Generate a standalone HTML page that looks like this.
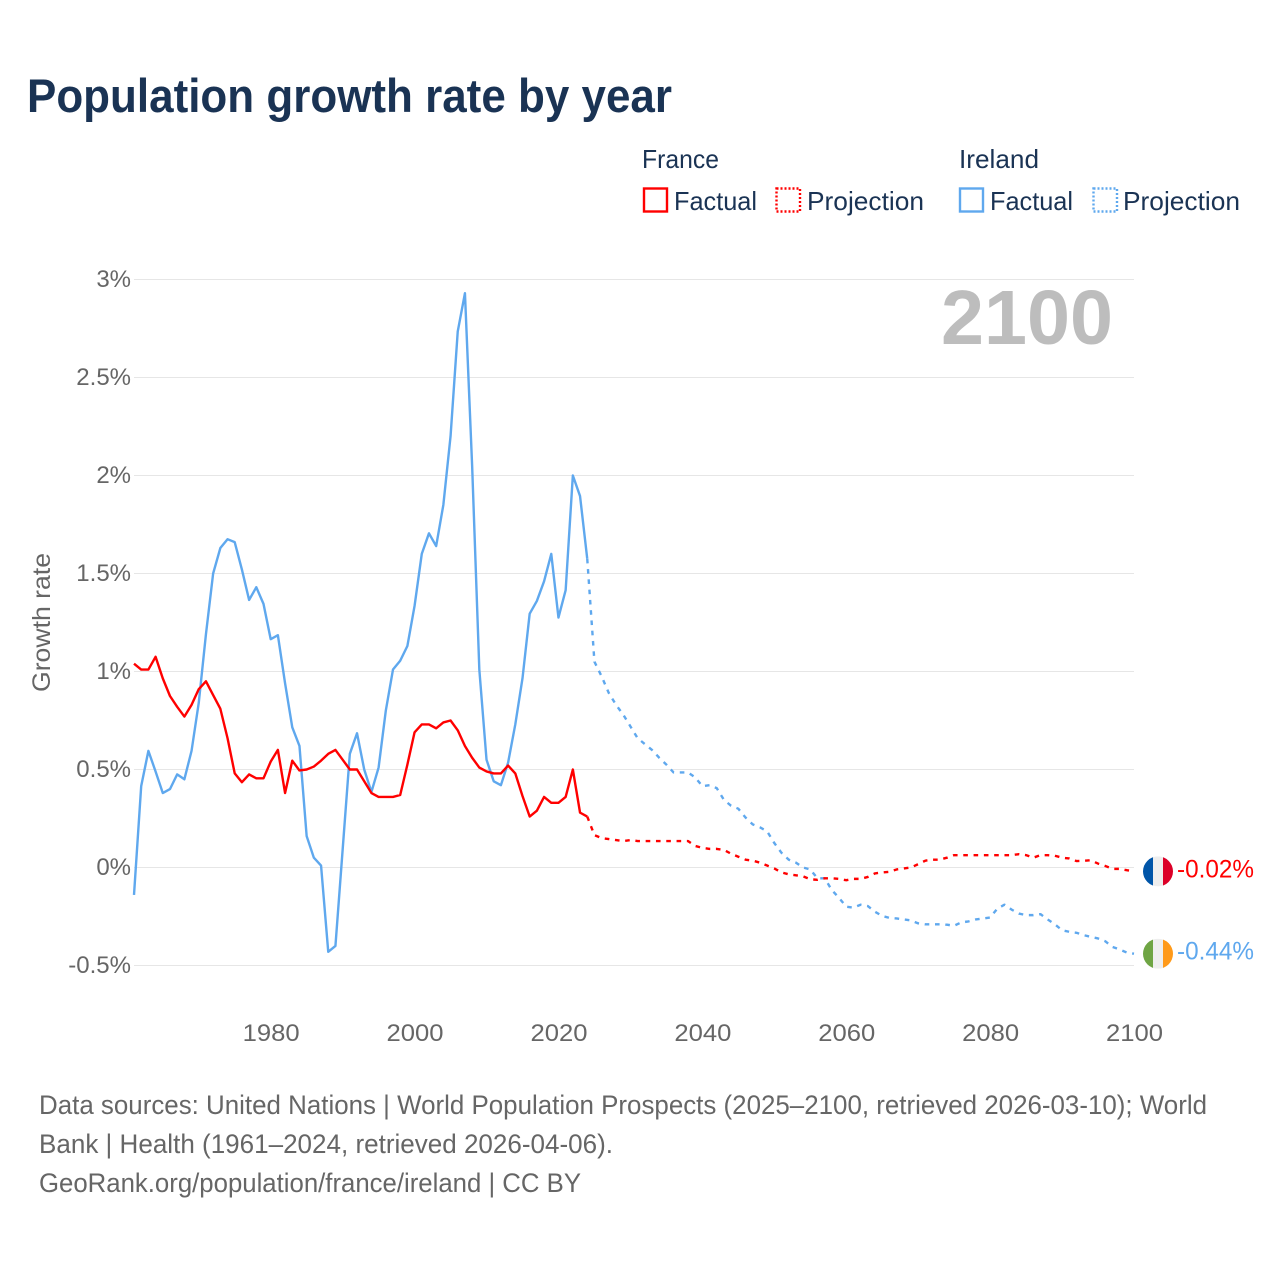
<!DOCTYPE html>
<html lang="en">
<head>
<meta charset="utf-8">
<title>Population growth rate by year</title>
<style>
html,body{margin:0;padding:0;background:#fff;}
svg{display:block;font-family:"Liberation Sans",sans-serif;}
</style>
</head>
<body>
<svg id="chart" xmlns="http://www.w3.org/2000/svg" width="1280" height="1280" viewBox="0 0 1280 1280">
  <rect x="0" y="0" width="1280" height="1280" fill="#ffffff"/>
  <text x="27" y="112" font-size="47" font-weight="700" fill="#1a3354" textLength="645" lengthAdjust="spacingAndGlyphs">Population growth rate by year</text>

  <g font-size="26" fill="#1a3354">
    <text x="642" y="168" textLength="77" lengthAdjust="spacingAndGlyphs">France</text>
    <rect x="644" y="188.5" width="23" height="23" fill="none" stroke="#ff0000" stroke-width="2.4"/>
    <text x="674" y="210" textLength="83" lengthAdjust="spacingAndGlyphs">Factual</text>
    <rect x="776.5" y="188.5" width="23.5" height="23" fill="none" stroke="#ff0000" stroke-width="2.4" stroke-dasharray="2,2"/>
    <text x="807" y="210" textLength="117" lengthAdjust="spacingAndGlyphs">Projection</text>
    <text x="959" y="168" textLength="80" lengthAdjust="spacingAndGlyphs">Ireland</text>
    <rect x="960" y="188.5" width="23" height="23" fill="none" stroke="#5fa8ee" stroke-width="2.4"/>
    <text x="990" y="210" textLength="83" lengthAdjust="spacingAndGlyphs">Factual</text>
    <rect x="1093.5" y="188.5" width="23.5" height="23" fill="none" stroke="#5fa8ee" stroke-width="2.4" stroke-dasharray="2,2"/>
    <text x="1123" y="210" textLength="117" lengthAdjust="spacingAndGlyphs">Projection</text>
  </g>

  <g id="grid"></g>
  <g id="yticks"></g>
  <g id="xticks"></g>

  <text transform="translate(50,622.5) rotate(-90)" text-anchor="middle" font-size="25" fill="#666666" textLength="139" lengthAdjust="spacingAndGlyphs">Growth rate</text>
  <text x="941" y="344" font-size="77" font-weight="700" fill="#bdbdbd" textLength="172" lengthAdjust="spacingAndGlyphs">2100</text>

  <g id="series"></g>

  <defs>
    <clipPath id="flag-clip-france"><circle id="clip-fr" cx="1158" cy="871" r="15"/></clipPath>
    <clipPath id="flag-clip-ireland"><circle id="clip-ie" cx="1158" cy="954" r="15"/></clipPath>
  </defs>
  <g id="flags"></g>

  <g font-size="27" fill="#666666">
    <text x="39" y="1114" textLength="1168" lengthAdjust="spacingAndGlyphs">Data sources: United Nations | World Population Prospects (2025–2100, retrieved 2026-03-10); World</text>
    <text x="39" y="1153" textLength="574" lengthAdjust="spacingAndGlyphs">Bank | Health (1961–2024, retrieved 2026-04-06).</text>
    <text x="39" y="1192" textLength="542" lengthAdjust="spacingAndGlyphs">GeoRank.org/population/france/ireland | CC BY</text>
  </g>
</svg>

<script>
const yTickValues = [3, 2.5, 2, 1.5, 1, 0.5, 0, -0.5];
const yTickLabels = ["3%", "2.5%", "2%", "1.5%", "1%", "0.5%", "0%", "-0.5%"];
const xTickYears = [1980, 2000, 2020, 2040, 2060, 2080, 2100];

const factualStartYear = 1961;
const projectionStartYear = 2024;

const franceFactual = [
  1.04, 1.01, 1.01, 1.075, 0.965, 0.875, 0.82, 0.77, 0.83, 0.91,
  0.95, 0.88, 0.81, 0.66, 0.48, 0.435, 0.475, 0.455, 0.455, 0.54,
  0.60, 0.38, 0.545, 0.495, 0.50, 0.515, 0.545, 0.58, 0.60, 0.55,
  0.50, 0.50, 0.44, 0.38, 0.36, 0.36, 0.36, 0.37, 0.525, 0.69,
  0.73, 0.73, 0.71, 0.74, 0.75, 0.70, 0.62, 0.56, 0.51, 0.49,
  0.48, 0.48, 0.52, 0.48, 0.365, 0.26, 0.29, 0.36, 0.33, 0.33,
  0.36, 0.50, 0.28, 0.26
];
const irelandFactual = [
  -0.14, 0.415, 0.595, 0.49, 0.38, 0.40, 0.475, 0.45, 0.595, 0.84,
  1.19, 1.50, 1.63, 1.675, 1.66, 1.52, 1.365, 1.43, 1.345, 1.165,
  1.185, 0.94, 0.715, 0.62, 0.16, 0.05, 0.01, -0.43, -0.40, 0.09,
  0.58, 0.685, 0.50, 0.385, 0.51, 0.80, 1.01, 1.055, 1.13, 1.335,
  1.60, 1.705, 1.64, 1.85, 2.20, 2.735, 2.93, 2.05, 1.01, 0.55,
  0.44, 0.42, 0.535, 0.73, 0.965, 1.295, 1.36, 1.46, 1.60, 1.275,
  1.415, 2.00, 1.895, 1.575
];
const franceProjection = [
  0.26, 0.165, 0.15, 0.145, 0.14, 0.135, 0.14, 0.135, 0.135, 0.135, 0.135,
  0.135, 0.135, 0.135, 0.135, 0.11, 0.10, 0.095, 0.095, 0.09, 0.07,
  0.055, 0.04, 0.035, 0.025, 0.01, -0.005, -0.025, -0.035, -0.04, -0.045,
  -0.06, -0.063, -0.055, -0.055, -0.058, -0.065, -0.058, -0.058, -0.048, -0.03,
  -0.025, -0.022, -0.01, -0.005, 0, 0.017, 0.035, 0.04, 0.04, 0.05,
  0.063, 0.063, 0.063, 0.063, 0.063, 0.063, 0.063, 0.063, 0.063, 0.068,
  0.063, 0.05, 0.063, 0.063, 0.06, 0.05, 0.046, 0.033, 0.034, 0.037,
  0.02, 0.008, -0.007, -0.007, -0.014, -0.02
];
const irelandProjection = [
  1.575, 1.05, 0.975, 0.89, 0.83, 0.78, 0.72, 0.66, 0.63, 0.60, 0.56,
  0.525, 0.485, 0.485, 0.485, 0.46, 0.415, 0.42, 0.405, 0.345, 0.315,
  0.30, 0.255, 0.22, 0.205, 0.185, 0.125, 0.075, 0.04, 0.025, 0,
  -0.01, -0.055, -0.055, -0.115, -0.155, -0.20, -0.205, -0.19, -0.197, -0.226,
  -0.247, -0.257, -0.26, -0.265, -0.27, -0.285, -0.29, -0.29, -0.29, -0.292,
  -0.297, -0.28, -0.275, -0.265, -0.26, -0.255, -0.21, -0.19, -0.215, -0.235,
  -0.243, -0.243, -0.238, -0.265, -0.29, -0.32, -0.328, -0.333, -0.345, -0.354,
  -0.362, -0.376, -0.405, -0.418, -0.434, -0.44
];
const endLabels = ["-0.02%", "-0.44%"];

const SVG_NS = "http://www.w3.org/2000/svg";
const RED = "#ff0000";
const BLUE = "#5fa8ee";

function xScale(year) { return 134 + (year - 1961) * (1000 / 139); }
function yScale(value) { return 867.5 - value * 196; }

function make(tag, parent, attrs, text) {
  const el = document.createElementNS(SVG_NS, tag);
  for (const k in attrs) el.setAttribute(k, attrs[k]);
  if (text !== undefined) el.textContent = text;
  parent.appendChild(el);
  return el;
}

function linePath(values, startYear) {
  return values.map(function (v, i) {
    return (i ? "L" : "M") + xScale(startYear + i).toFixed(2) + " " + yScale(v).toFixed(2);
  }).join(" ");
}

const gridGroup = document.getElementById("grid");
const yTickGroup = document.getElementById("yticks");
yTickValues.forEach(function (v, i) {
  const gl = make("line", gridGroup, { x1: 134, x2: 1134, y1: yScale(v), y2: yScale(v), stroke: "#e6e6e6", "stroke-width": 1 });
  
  
  const tl = make("text", yTickGroup, { x: 131, y: yScale(v) + 7.5, "text-anchor": "end", "font-size": 24, fill: "#666666" }, yTickLabels[i]);
  
  
});

const xTickGroup = document.getElementById("xticks");
xTickYears.forEach(function (year) {
  const tl = make("text", xTickGroup, { x: xScale(year) + 0.5, y: 1041, "text-anchor": "middle", "font-size": 24, fill: "#666666", textLength: 57, lengthAdjust: "spacingAndGlyphs" }, String(year));
  
  
});

const seriesGroup = document.getElementById("series");
const common = { fill: "none", "stroke-width": 2.4, "stroke-linejoin": "round" };

const irelandFactualLine = make("path", seriesGroup, Object.assign({ d: linePath(irelandFactual, factualStartYear), stroke: BLUE }, common));



const irelandProjectionLine = make("path", seriesGroup, Object.assign({ d: linePath(irelandProjection, projectionStartYear), stroke: BLUE, "stroke-dasharray": "4.6,5.7" }, common));



const franceFactualLine = make("path", seriesGroup, Object.assign({ d: linePath(franceFactual, factualStartYear), stroke: RED }, common));



const franceProjectionLine = make("path", seriesGroup, Object.assign({ d: linePath(franceProjection, projectionStartYear), stroke: RED, "stroke-dasharray": "4.6,5.7" }, common));



function drawFlag(groupName, clipId, circleId, lastValue, colors) {
  const cy = yScale(lastValue);
  document.getElementById(circleId).setAttribute("cy", cy);
  const flagsGroup = document.getElementById("flags");
  const g = make("g", flagsGroup, { "clip-path": "url(#" + clipId + ")" });
  
  
  colors.forEach(function (c, i) {
    make("rect", g, { x: 1143 + i * 10, y: cy - 15, width: 10.2, height: 30, fill: c });
  });
  return cy;
}

const frY = drawFlag('france-flag', 'flag-clip-france', 'clip-fr', franceProjection[franceProjection.length - 1], ["#0055a8", "#eeeeee", "#dc0028"]);
const ieY = drawFlag('ireland-flag', 'flag-clip-ireland', 'clip-ie', irelandProjection[irelandProjection.length - 1], ["#6fa544", "#eeeeee", "#ff9a1a"]);

const frLabel = make("text", document.getElementById("flags"), { x: 1177, y: frY + 6, "font-size": 25, fill: RED, textLength: 77, lengthAdjust: "spacingAndGlyphs" }, endLabels[0]);



const ieLabel = make("text", document.getElementById("flags"), { x: 1177, y: ieY + 6, "font-size": 25, fill: BLUE, textLength: 77, lengthAdjust: "spacingAndGlyphs" }, endLabels[1]);


</script>
</body>
</html>
